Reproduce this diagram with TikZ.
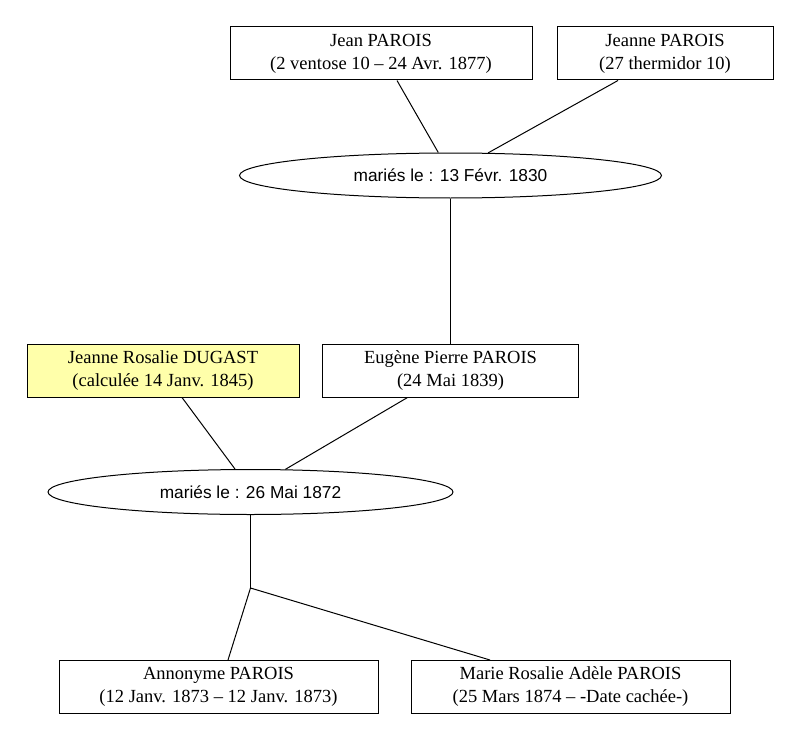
\documentclass[tikz,border=0pt]{standalone}
\usepackage{fontspec}
\setmainfont{Liberation Serif}
\newfontfamily\ellfont{Liberation Sans}
\usetikzlibrary{shapes.geometric}
\definecolor{paleyellow}{RGB}{255,255,170}
\begin{document}
\begin{tikzpicture}[x=1pt,y=-1pt,
  person/.style={draw, line width=1pt, rectangle, inner sep=0pt, align=center, minimum height=53pt, font=\fontsize{18.5}{23}\selectfont},
  union/.style={draw, line width=1pt, ellipse, inner sep=0pt, minimum height=45pt, font=\ellfont\fontsize{17.3}{20}\selectfont},
  link/.style={line width=1pt}]
\useasboundingbox (0,0) rectangle (800,741);
\node[person, minimum width=302pt] (jean) at (381,53.5) {Jean PAROIS\\(2 ventose 10 – 24 Avr. 1877)};
\node[person, minimum width=216pt] (jeanne) at (665,53.5) {Jeanne PAROIS\\(27 thermidor 10)};
\node[union, minimum width=422pt] (m1) at (450.5,175.5) {mariés le : 13 Févr. 1830};
\node[person, minimum width=272pt, fill=paleyellow] (dugast) at (163,370.5) {Jeanne Rosalie DUGAST\\(calculée 14 Janv. 1845)};
\node[person, minimum width=256pt] (eugene) at (450.5,370.5) {Eugène Pierre PAROIS\\(24 Mai 1839)};
\node[union, minimum width=405pt] (m2) at (250.5,492) {mariés le : 26 Mai 1872};
\node[person, minimum width=319pt] (anon) at (218.5,687) {Annonyme PAROIS\\(12 Janv. 1873 – 12 Janv. 1873)};
\node[person, minimum width=319pt] (marie) at (570.5,687) {Marie Rosalie Adèle PAROIS\\(25 Mars 1874 – -Date cachée-)};
\coordinate (mid) at (450.5,270);
\coordinate (j) at (250.5,588);
\draw[link] ([xshift=16pt]jean.south) -- (m1.118);
\draw[link] ([xshift=-47pt]jeanne.south) -- (m1.31);
\draw[link] (m1.south) -- (mid) -- (eugene.north);
\draw[link] ([xshift=19pt]dugast.south) -- (m2.124);
\draw[link] ([xshift=-43pt]eugene.south) -- (m2.33);
\draw[link] (m2.south) -- (j);
\draw[link] (j) -- ([xshift=9.5pt]anon.north);
\draw[link] (j) -- ([xshift=-80.5pt]marie.north);
\end{tikzpicture}
\end{document}
